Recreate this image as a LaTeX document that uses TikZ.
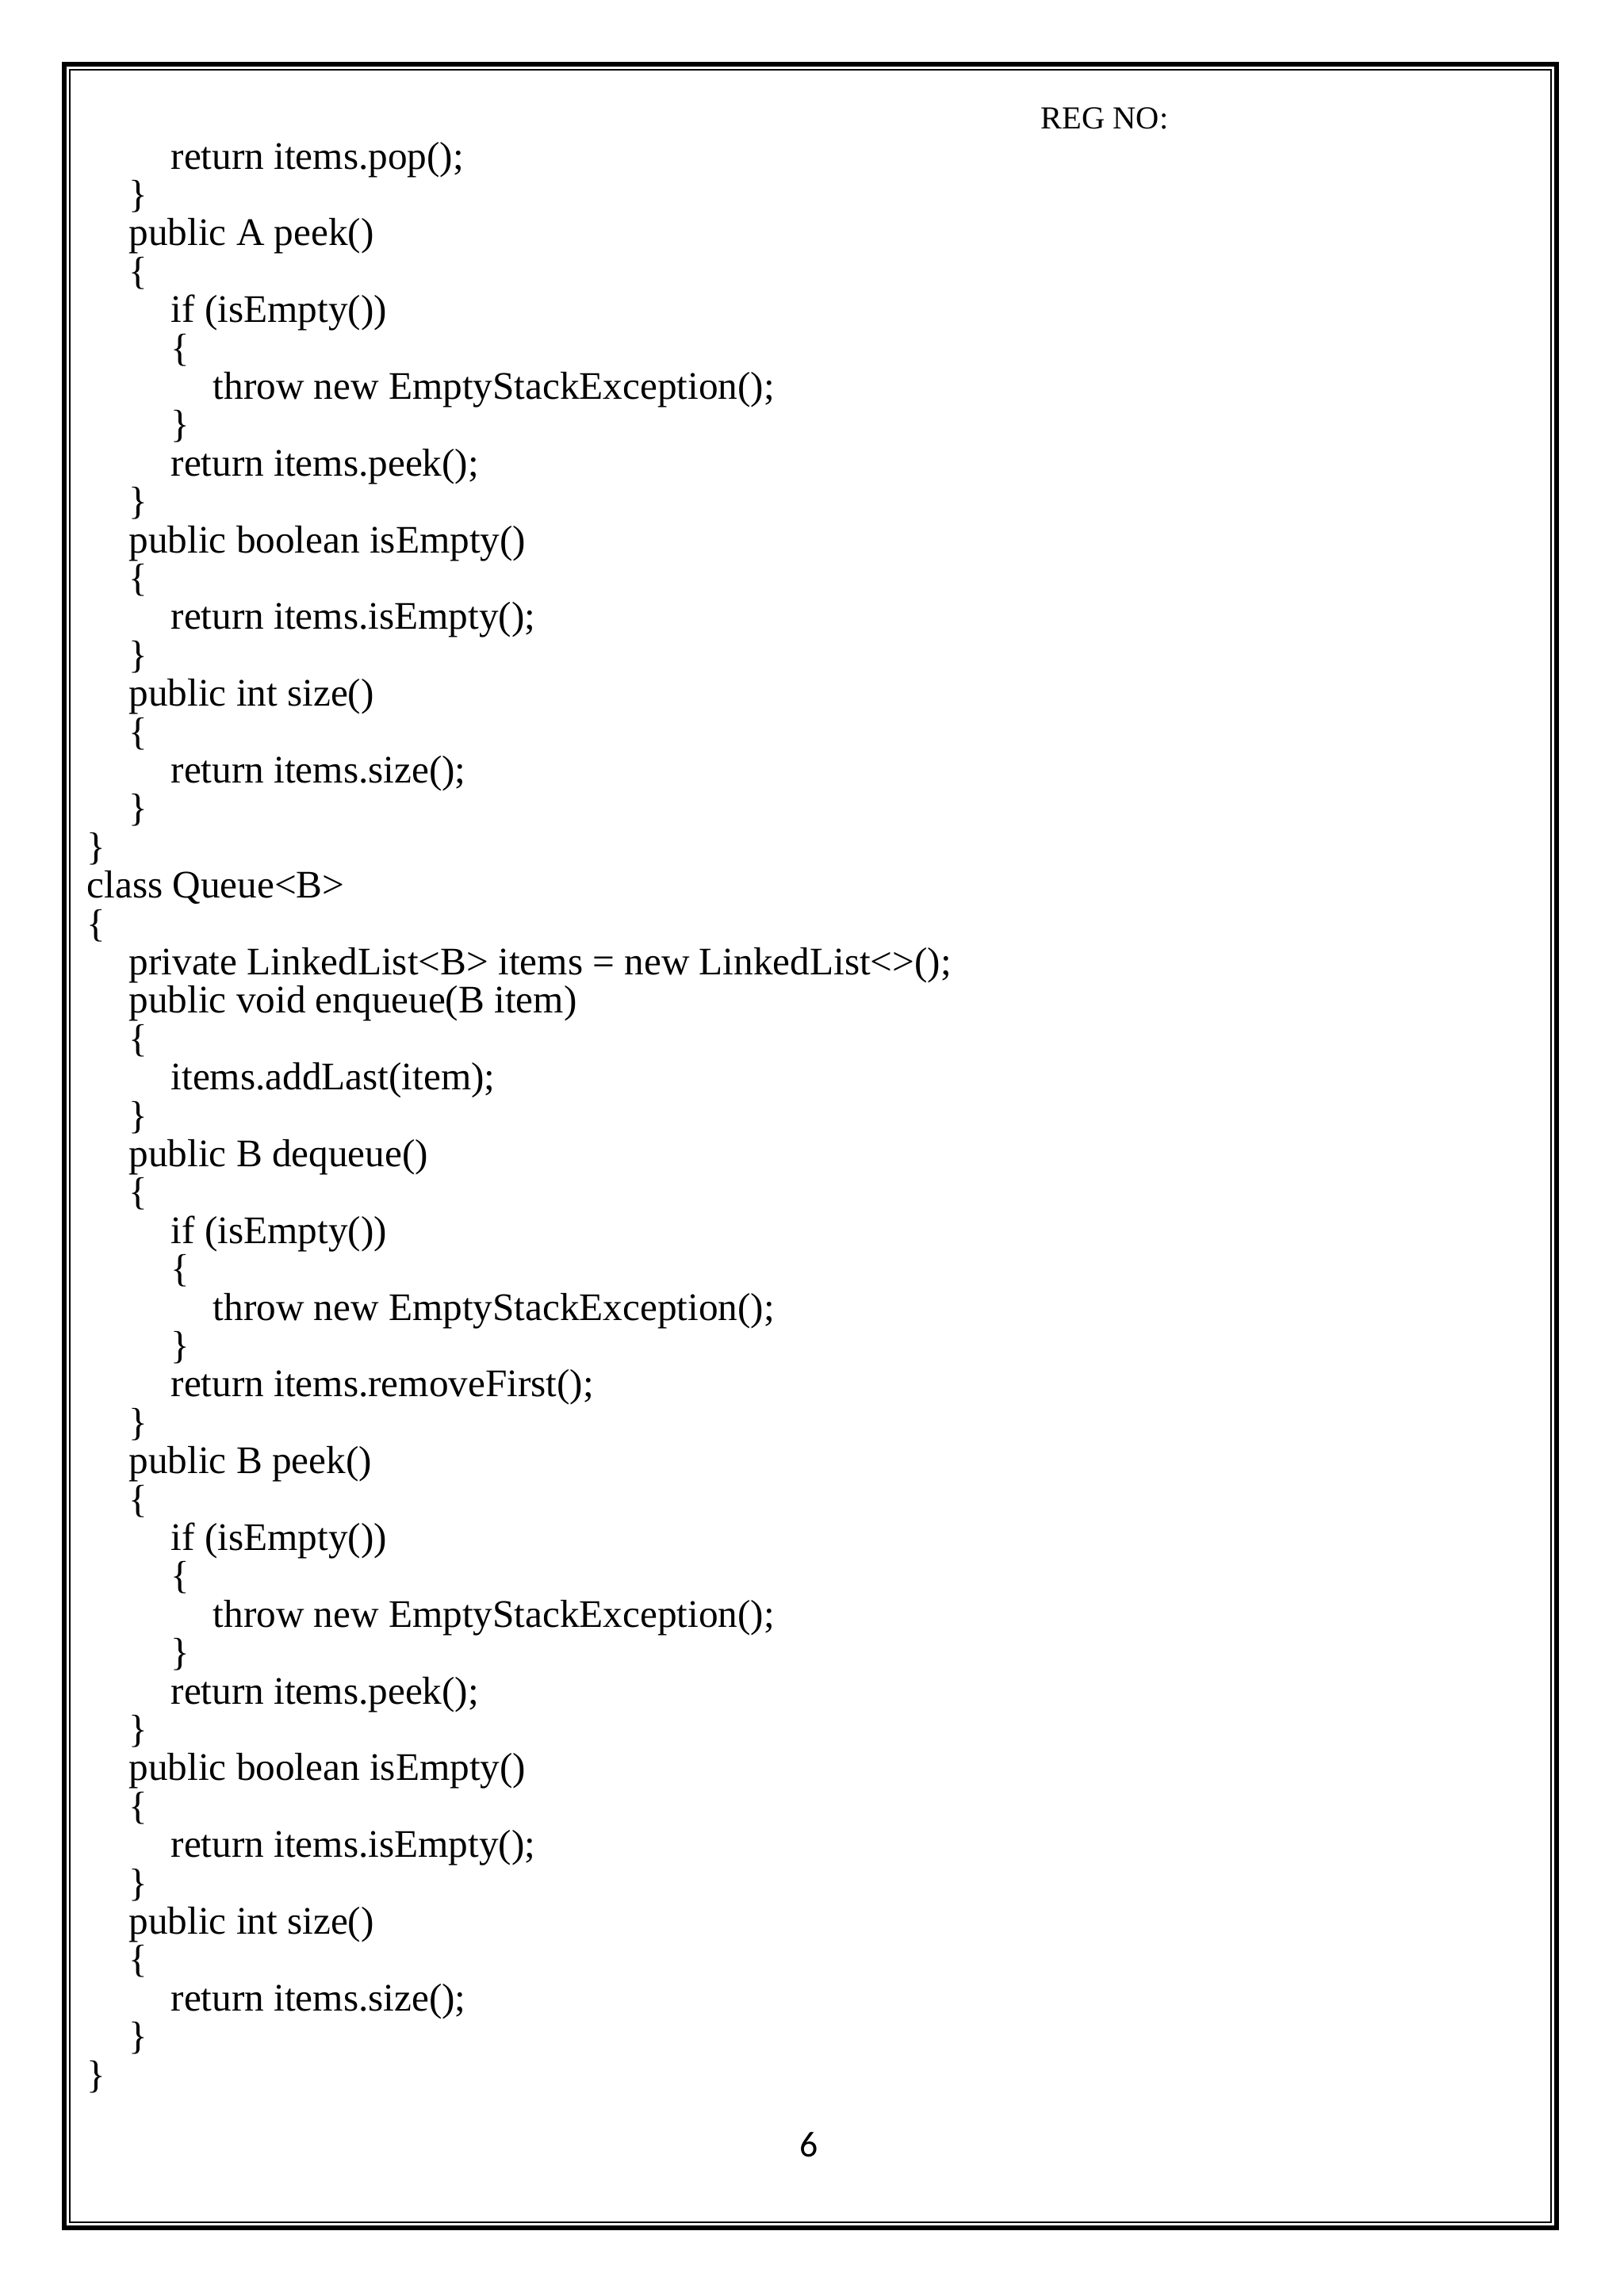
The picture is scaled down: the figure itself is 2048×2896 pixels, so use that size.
\documentclass[tikz,border=0pt]{standalone}
\usepackage{fontspec}
\setmainfont{Liberation Serif}
\newfontfamily\pgfont{Carlito}
\begin{document}
\begin{tikzpicture}[x=0.01cm,y=-0.01cm,
  code/.style={anchor=base west,inner sep=0pt,font=\fontsize{14pt}{16pt}\selectfont}]
\useasboundingbox (0,0) rectangle (2048,2896);
\fill[white] (0,0) rectangle (2048,2896);
\draw[line width=1.6pt] (81,81) rectangle (1963,2810);
\draw[line width=0.6pt] (88,88) rectangle (1956,2803);
\node[code,font=\fontsize{11.5pt}{13pt}\selectfont] (reg) at (1312,162) {REG NO:};
\foreach \lv/\t [count=\i] in {
2/{return items.pop();},1/{\}},1/{public A peek()},1/{\{},2/{if (isEmpty())},2/{\{},3/{throw new EmptyStackException();},2/{\}},2/{return items.peek();},1/{\}},
1/{public boolean isEmpty()},1/{\{},2/{return items.isEmpty();},1/{\}},1/{public int size()},1/{\{},2/{return items.size();},1/{\}},0/{\}},0/{class Queue<B>},
0/{\{},1/{private LinkedList<B> items = new LinkedList<>();},1/{public void enqueue(B item)},1/{\{},2/{items.addLast(item);},1/{\}},1/{public B dequeue()},1/{\{},2/{if (isEmpty())},2/{\{},
3/{throw new EmptyStackException();},2/{\}},2/{return items.removeFirst();},1/{\}},1/{public B peek()},1/{\{},2/{if (isEmpty())},2/{\{},3/{throw new EmptyStackException();},2/{\}},
2/{return items.peek();},1/{\}},1/{public boolean isEmpty()},1/{\{},2/{return items.isEmpty();},1/{\}},1/{public int size()},1/{\{},2/{return items.size();},1/{\}},0/{\}}}
{ \node[code] (l\i) at ({109+53*\lv},{213+48.4*(\i-1)}) {\t}; }
\node[inner sep=0pt,font=\pgfont\fontsize{13pt}{15pt}\selectfont] (pg) at (1020,2705) {6};
\end{tikzpicture}
\end{document}
